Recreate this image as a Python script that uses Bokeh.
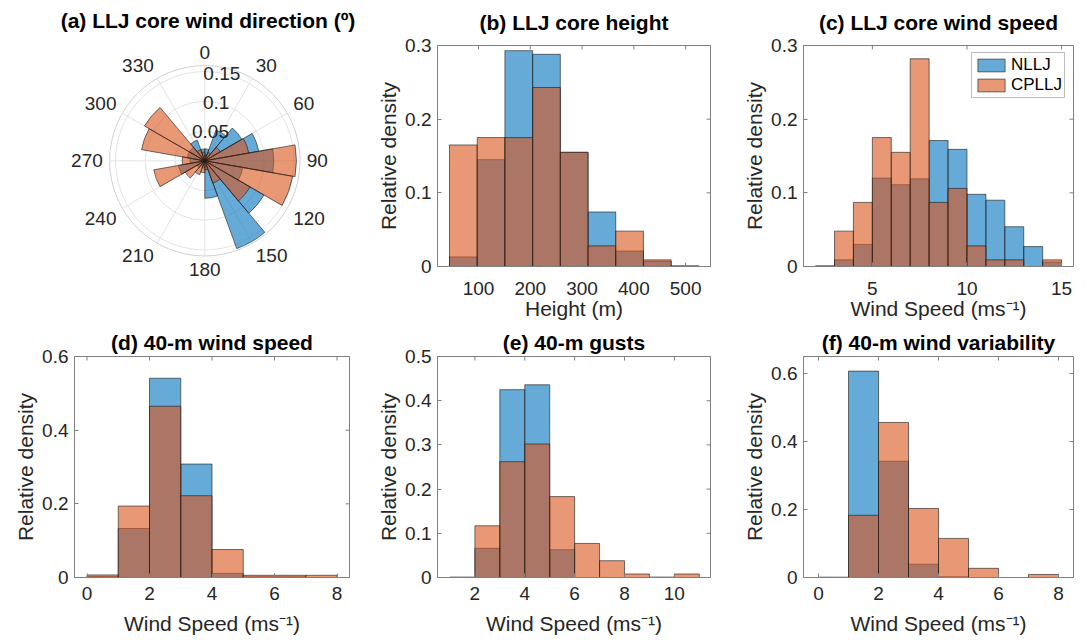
import numpy as np
from bokeh.plotting import figure
from bokeh.layouts import row, column
from bokeh.models import (Range1d, FixedTicker, NumeralTickFormatter,
                          Legend, LegendItem, ColumnDataSource, Label)
from bokeh.core.properties import value
from bokeh.embed import file_html
from bokeh.resources import INLINE

FONT = "Liberation Sans"
BLUE = "#0072BD"
ORANGE = "#D95319"
AX = "#808080"
TXT = "#262626"
EDGE = "#1a1a1a"

# ---------------- data ----------------
# (a) LLJ core wind direction: 20-degree bins, compass degrees
dir_edges = list(range(0, 361, 20))
dir_nllj = [0.020, 0.055, 0.072, 0.092, 0.116, 0.065, 0.115, 0.157, 0.063,
            0.012, 0.010, 0.015, 0.045, 0.025, 0.030, 0.030, 0.037, 0.020]
dir_cpllj = [0.010, 0.015, 0.030, 0.075, 0.154, 0.150, 0.088, 0.040, 0.015,
             0.020, 0.025, 0.038, 0.087, 0.038, 0.108, 0.117, 0.020, 0.015]
r_ticks = [0.05, 0.1, 0.15]
r_max = 0.16
theta_ticks = list(range(0, 360, 30))

# (b) LLJ core height
b_edges = [44, 97.5, 151, 204.5, 258, 311.5, 365, 418.5, 472, 525.5]
b_nllj = [0.013, 0.145, 0.293, 0.288, 0.155, 0.074, 0.021, 0.007, 0.001]
b_cpllj = [0.165, 0.175, 0.175, 0.243, 0.155, 0.028, 0.048, 0.009, 0.0]

# (c) LLJ core wind speed
c_edges = list(range(2, 16))
c_nllj = [0.001, 0.009, 0.030, 0.120, 0.111, 0.119, 0.171, 0.159, 0.098,
          0.090, 0.054, 0.027, 0.006]
c_cpllj = [0.0, 0.048, 0.087, 0.175, 0.155, 0.282, 0.087, 0.106, 0.028,
           0.009, 0.009, 0.0, 0.009]

# (d) 40-m wind speed
d_edges = list(range(0, 9))
d_nllj = [0.003, 0.133, 0.541, 0.308, 0.011, 0.002, 0.002, 0.0]
d_cpllj = [0.007, 0.194, 0.465, 0.222, 0.076, 0.006, 0.006, 0.006]

# (e) 40-m gusts
e_edges = list(range(1, 12))
e_nllj = [0.001, 0.066, 0.425, 0.436, 0.063, 0.0, 0.0, 0.0, 0.001, 0.0]
e_cpllj = [0.0, 0.117, 0.262, 0.302, 0.183, 0.077, 0.038, 0.008, 0.0, 0.008]

# (f) 40-m wind variability
f_edges = list(range(0, 9))
f_nllj = [0.001, 0.607, 0.342, 0.039, 0.002, 0.0, 0.0, 0.0]
f_cpllj = [0.0, 0.183, 0.456, 0.203, 0.115, 0.027, 0.0, 0.009]

series_names = ["NLLJ", "CPLLJ"]
ylabel = "Relative density"
ws_label = "Wind Speed (ms\u207b\u00b9)"

ROW1_H, ROW2_H = 326, 315
FH = 221  # frame height of histogram panels


def bar_source(edges, vals):
    l, r, t = [], [], []
    for i, v in enumerate(vals):
        if v > 0:
            l.append(edges[i]); r.append(edges[i + 1]); t.append(v)
    return ColumnDataSource(dict(left=l, right=r, top=t))


def hist_panel(title, edges, nllj, cpllj, xr, yr, xticks, yticks, xlabel,
               w, h, left, right, top, title_standoff, xtick_standoff,
               xlab_standoff, legend=False):
    p = figure(width=w, height=h, x_range=Range1d(*xr), y_range=Range1d(*yr),
               output_backend="svg", toolbar_location=None,
               min_border_left=left, min_border_right=right,
               min_border_top=top, min_border_bottom=h - top - FH,
               frame_align=False, title=title)
    p.title.text_font = FONT
    p.title.text_font_size = "21px"
    p.title.text_font_style = "bold"
    p.title.text_color = "#000000"
    p.title.align = "center"
    p.title.vertical_align = "top"
    p.title.standoff = title_standoff
    p.grid.visible = False
    p.outline_line_color = AX
    p.background_fill_color = "white"
    p.border_fill_color = "white"

    rb = p.quad(left="left", right="right", bottom=0, top="top",
                source=bar_source(edges, nllj), fill_color=BLUE, fill_alpha=0.6,
                line_color=EDGE, line_alpha=0.75, line_width=0.8)
    ro = p.quad(left="left", right="right", bottom=0, top="top",
                source=bar_source(edges, cpllj), fill_color=ORANGE, fill_alpha=0.6,
                line_color=EDGE, line_alpha=0.75, line_width=0.8)

    for ax, ticks, lab in ((p.xaxis[0], xticks, xlabel), (p.yaxis[0], yticks, ylabel)):
        ax.ticker = FixedTicker(ticks=ticks)
        ax.formatter = NumeralTickFormatter(format="0.[00]")
        ax.axis_label = lab
        ax.axis_label_text_font = FONT
        ax.axis_label_text_font_size = "21px"
        ax.axis_label_text_font_style = "normal"
        ax.axis_label_text_color = TXT
        ax.major_label_text_font = FONT
        ax.major_label_text_font_size = "19px"
        ax.major_label_text_color = TXT
        ax.major_tick_in = 4
        ax.major_tick_out = 0
        ax.minor_tick_line_color = None
        ax.axis_line_color = AX
        ax.major_tick_line_color = AX
    p.xaxis[0].major_label_standoff = xtick_standoff
    p.xaxis[0].axis_label_standoff = xlab_standoff
    p.yaxis[0].major_label_standoff = 6
    p.yaxis[0].axis_label_standoff = 2

    # inward ticks on the top and right edges of the box
    p.scatter(x=xticks, y=[yr[1]] * len(xticks), marker="dash", size=8,
              angle=np.pi / 2, line_color=AX, line_width=1)
    p.scatter(x=[xr[1]] * len(yticks), y=yticks, marker="dash", size=8,
              angle=0, line_color=AX, line_width=1)

    if legend:
        lg = Legend(items=[LegendItem(label=series_names[0], renderers=[rb]),
                           LegendItem(label=series_names[1], renderers=[ro])],
                    location=(168, 168), margin=0, padding=2, spacing=0,
                    glyph_width=34, glyph_height=16, label_height=16,
                    label_standoff=3, label_text_font=FONT,
                    label_text_font_size="17px", label_text_color="#000000",
                    border_line_color=AX, background_fill_color="white",
                    background_fill_alpha=1.0)
        p.add_layout(lg)
    return p


# ---------------- polar panel (a) ----------------
S = 595.0  # pixels per unit radius
aw, ah = 370, ROW1_H
cx, cy = 204.3, 160.3  # centre of the polar axes in the panel (px from top-left)
pa = figure(width=aw, height=ah, output_backend="svg", toolbar_location=None,
            x_range=Range1d(-cx / S, (aw - cx) / S),
            y_range=Range1d(-(ah - cy) / S, cy / S),
            min_border_left=0, min_border_right=0, min_border_top=0,
            min_border_bottom=0, x_axis_location=None, y_axis_location=None,
            frame_align=False)
pa.grid.visible = False
pa.outline_line_color = None

# grid rings and spokes
rings = r_ticks + [r_max]
pa.circle(x=[0] * len(rings), y=[0] * len(rings), radius=rings,
          fill_color=None, line_color=["#e3e3e3"] * len(r_ticks) + ["#d0d0d0"],
          line_width=1)
th = np.radians(theta_ticks)
pa.segment(x0=[0] * len(th), y0=[0] * len(th), x1=r_max * np.sin(th),
           y1=r_max * np.cos(th), line_color="#e3e3e3", line_width=1)

# wedges: compass angle (clockwise from north) -> math angle
starts = [np.radians(90 - dir_edges[i + 1]) for i in range(len(dir_nllj))]
ends = [np.radians(90 - dir_edges[i]) for i in range(len(dir_nllj))]
for vals, col in ((dir_nllj, BLUE), (dir_cpllj, ORANGE)):
    pa.wedge(x=[0] * len(vals), y=[0] * len(vals), radius=vals,
             start_angle=starts, end_angle=ends, direction="anticlock",
             fill_color=col, fill_alpha=0.6, line_color=EDGE, line_alpha=0.75,
             line_width=0.8)

# theta tick labels anchored just outside the outer ring, aligned outward
rl = 102.0 / S
sn, cs = np.sin(th), np.cos(th)
aligns = ["left" if s > 0.1 else ("right" if s < -0.1 else "center") for s in sn]
bases = ["bottom" if c > 0.1 else ("top" if c < -0.1 else "middle") for c in cs]
theta_src = ColumnDataSource(dict(x=rl * sn, y=rl * cs,
                                  text=[str(t) for t in theta_ticks],
                                  align=aligns, base=bases))
pa.text(x="x", y="y", text="text", source=theta_src, text_font=value(FONT),
        text_font_size=value("19px"), text_color=TXT, text_align="align",
        text_baseline="base")
ra = np.radians(11)
pa.text(x=[r * np.sin(ra) for r in r_ticks], y=[r * np.cos(ra) for r in r_ticks],
        text=["0.05", "0.1", "0.15"], text_font=value(FONT),
        text_font_size=value("19px"), text_color=TXT, text_align="center",
        text_baseline="middle")
pa.add_layout(Label(x=207.5, y=ah - 20, x_units="screen", y_units="screen",
                    text="(a) LLJ core wind direction (\u00ba)", text_font=FONT,
                    text_font_size="21px", text_font_style="bold",
                    text_color="#000000", text_align="center",
                    text_baseline="middle"))

# ---------------- histogram panels ----------------
pb = hist_panel("(b) LLJ core height", b_edges, b_nllj, b_cpllj, (20.8, 548),
                (0, 0.3), [100, 200, 300, 400, 500], [0, 0.1, 0.2, 0.3],
                "Height (m)", 370, ROW1_H, 67, 30, 45, 19, 15, -1)
pc = hist_panel("(c) LLJ core wind speed", c_edges, c_nllj, c_cpllj, (1.36, 15.63),
                (0, 0.3), [5, 10, 15], [0, 0.1, 0.2, 0.3],
                ws_label, 347, ROW1_H, 59, 14, 45, 19, 15, -1, legend=True)
pd_ = hist_panel("(d) 40-m wind speed", d_edges, d_nllj, d_cpllj, (-0.4, 8.4),
                 (0, 0.6), [0, 2, 4, 6, 8], [0, 0.2, 0.4, 0.6],
                 ws_label, 370, ROW2_H, 74, 21, 30, 2, 9, 9)
pe = hist_panel("(e) 40-m gusts", e_edges, e_nllj, e_cpllj, (0.5, 11.45),
                (0, 0.5), [2, 4, 6, 8, 10], [0, 0.1, 0.2, 0.3, 0.4, 0.5],
                ws_label, 370, ROW2_H, 67, 30, 30, 2, 9, 9)
pf = hist_panel("(f) 40-m wind variability", f_edges, f_nllj, f_cpllj, (-0.5, 8.5),
                (0, 0.65), [0, 2, 4, 6, 8], [0, 0.2, 0.4, 0.6],
                ws_label, 347, ROW2_H, 59, 14, 30, 2, 9, 9)

layout = column(row(pa, pb, pc), row(pd_, pe, pf))
open("out.html", "w").write(file_html(layout, INLINE))
